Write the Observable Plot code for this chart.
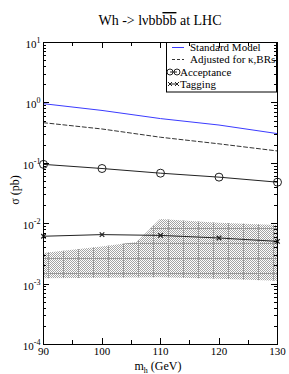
<!DOCTYPE html>
<html><head><meta charset="utf-8">
<script src="https://cdn.jsdelivr.net/npm/d3@7"></script>
<script src="https://cdn.jsdelivr.net/npm/@observablehq/plot@0.6"></script>
<style>body{margin:0;background:#fff} svg{display:block}</style>
</head><body><div id="chart"></div>
<script>
// ---- data ----
const mh = [90, 100, 110, 120, 130];
const standardModel = [0.97, 0.75, 0.55, 0.43, 0.31];
const adjusted = [0.47, 0.37, 0.27, 0.21, 0.16];
const acceptance = [0.096, 0.082, 0.0686, 0.059, 0.0487];
const tagging = [0.0062, 0.0066, 0.0064, 0.0058, 0.0051];
const bandMh = [90, 100, 106, 110, 120, 130];
const bandLow = [0.00123, 0.00125, 0.00126, 0.00127, 0.0012, 0.00111];
const bandHigh = [0.0032, 0.0041, 0.0049, 0.0117, 0.0102, 0.0093];
const xTicks = [90, 100, 110, 120, 130];
const xMinor = [95, 105, 115, 125];
const yExponents = [1, 0, -1, -2, -3, -4];
const legendLabels = ["Standard Model", "Adjusted for \u03ba,BRs", "Acceptance", "Tagging"];
const titleParts = ["Wh -> l\u03bdbb", "bb", " at LHC"];

const rows = (ys) => mh.map((m, i) => ({mh: m, v: ys[i]}));
const band = bandMh.map((m, i) => ({mh: m, lo: bandLow[i], hi: bandHigh[i]}));
const yMinor = [];
for (let e = -4; e < 1; e++) for (let k = 2; k <= 9; k++) yMinor.push(k * 10 ** e);
const yMajor = yExponents.map(e => 10 ** e);

const SERIF = "'Liberation Serif', 'Times New Roman', serif";

const svg = Plot.plot({
  width: 289, height: 374,
  marginLeft: 43, marginRight: 12, marginTop: 42, marginBottom: 30,
  style: {fontFamily: SERIF, fontSize: "11px", background: "white", color: "black"},
  x: {domain: [90, 130], axis: null},
  y: {type: "log", domain: [1e-4, 10], axis: null},
  marks: [
    Plot.areaY(band, {x: "mh", y1: "lo", y2: "hi", fill: "url(#chk)"}),
    Plot.areaY(band, {x: "mh", y1: "lo", y2: "hi", fill: "url(#gridpat)"}),
    Plot.line(rows(standardModel), {x: "mh", y: "v", stroke: "#3b3bff", strokeWidth: 1}),
    Plot.line(rows(adjusted), {x: "mh", y: "v", stroke: "#333", strokeWidth: 1, strokeDasharray: "4,2.5"}),
    Plot.line(rows(acceptance), {x: "mh", y: "v", stroke: "#222", strokeWidth: 1}),
    Plot.dot(rows(acceptance), {x: "mh", y: "v", r: 4, stroke: "#222", fill: "none", strokeWidth: 1}),
    Plot.line(rows(tagging), {x: "mh", y: "v", stroke: "#222", strokeWidth: 1}),
    Plot.dot(rows(tagging), {x: "mh", y: "v", r: 2.2, symbol: "times", stroke: "#222", strokeWidth: 1.2}),
    Plot.frame({stroke: "black"}),
    // tick labels
    Plot.text(xTicks, {x: d => d, frameAnchor: "bottom", text: d => String(d),
      dy: 7, fontSize: 11, lineAnchor: "middle"}),
    Plot.text(yExponents, {y: d => 10 ** d, frameAnchor: "left", text: d => "10^" + d,
      dx: -3, dy: 2, textAnchor: "end", fontSize: 11, className: "ylab"})
  ]
});

document.getElementById("chart").append(svg);
const s = d3.select(svg);

// patterns for the hatched band
const defs = s.insert("defs", ":first-child");
const chk = defs.append("pattern").attr("id", "chk").attr("patternUnits", "userSpaceOnUse")
  .attr("width", 2).attr("height", 2);
chk.append("rect").attr("width", 2).attr("height", 2).attr("fill", "white");
chk.append("rect").attr("x", 0).attr("y", 0).attr("width", 1).attr("height", 1).attr("fill", "#a4a4a4");
chk.append("rect").attr("x", 1).attr("y", 1).attr("width", 1).attr("height", 1).attr("fill", "#a4a4a4");
const gp = defs.append("pattern").attr("id", "gridpat").attr("patternUnits", "userSpaceOnUse")
  .attr("x", 3).attr("y", 3).attr("width", 15).attr("height", 15);
gp.append("path").attr("d", "M0.5,0V15M0,0.5H15").attr("stroke", "#999").attr("stroke-width", 1).attr("fill", "none");

// superscripts in y tick labels
s.selectAll(".ylab text").each(function() {
  const t = d3.select(this);
  const [base, exp] = t.text().split("^");
  if (exp === undefined) return;
  t.text(base);
  t.append("tspan").attr("dy", -5).attr("font-size", 8).text(exp);
});

// title
const title = s.append("text").attr("x", 160).attr("y", 25).attr("text-anchor", "middle")
  .attr("font-family", SERIF).attr("font-size", 14).attr("fill", "black");
title.append("tspan").text(titleParts[0]);
title.append("tspan").attr("text-decoration", "overline").style("text-decoration", "overline").text(titleParts[1]);
title.append("tspan").text(titleParts[2]);

// axis labels
const xl = s.append("text").attr("x", 158).attr("y", 370).attr("text-anchor", "middle")
  .attr("font-family", SERIF).attr("font-size", 12).attr("fill", "black");
xl.append("tspan").text("m");
xl.append("tspan").attr("dy", 3).attr("font-size", 8).text("h");
xl.append("tspan").attr("dy", -3).text(" (GeV)");
s.append("text").attr("transform", "translate(19,190) rotate(-90)").attr("text-anchor", "middle")
  .attr("font-family", SERIF).attr("font-size", 12).attr("fill", "black").text("\u03c3 (pb)");

// legend
const lg = s.append("g").attr("font-family", SERIF).attr("font-size", 11).attr("text-anchor", "start");
lg.append("rect").attr("x", 166.5).attr("y", 42.5).attr("width", 110).attr("height", 49.5)
  .attr("fill", "white").attr("stroke", "black");
const ly = [47.5, 59.5, 72, 84];
lg.append("line").attr("x1", 172).attr("x2", 184).attr("y1", ly[0]).attr("y2", ly[0]).attr("stroke", "#3b3bff");
lg.append("line").attr("x1", 172).attr("x2", 184).attr("y1", ly[1]).attr("y2", ly[1]).attr("stroke", "#333").attr("stroke-dasharray", "3,2");
lg.append("line").attr("x1", 170).attr("x2", 177).attr("y1", ly[2]).attr("y2", ly[2]).attr("stroke", "#222");
[170, 177].forEach(cx => lg.append("circle").attr("cx", cx).attr("cy", ly[2]).attr("r", 3).attr("fill", "none").attr("stroke", "#222"));
lg.append("line").attr("x1", 170).attr("x2", 177).attr("y1", ly[3]).attr("y2", ly[3]).attr("stroke", "#222");
[170, 177].forEach(cx => lg.append("path").attr("d", `M${cx-2},${ly[3]-2}L${cx+2},${ly[3]+2}M${cx-2},${ly[3]+2}L${cx+2},${ly[3]-2}`).attr("stroke", "#222"));
const lx = [190, 190, 180, 180];
legendLabels.forEach((lab, i) => lg.append("text").attr("x", lx[i]).attr("y", ly[i] + 3.5).attr("text-anchor", "start").attr("fill", "black").text(lab));

// inward ticks on all four sides, positioned through Plot's scales (drawn last)
try {
  const X = svg.scale("x"), Y = svg.scale("y");
  const [x0, x1] = X.range, [y0, y1] = Y.range; // y0 bottom, y1 top
  const tk = s.append("g").attr("stroke", "black").attr("stroke-width", 1).attr("fill", "none");
  const xTick = (vals, len) => vals.forEach(v => {
    const px = Math.round(X.apply(v)) + 0.5;
    tk.append("line").attr("x1", px).attr("x2", px).attr("y1", y0).attr("y2", y0 - len);
    tk.append("line").attr("x1", px).attr("x2", px).attr("y1", y1).attr("y2", y1 + len);
  });
  const yTick = (vals, len) => vals.forEach(v => {
    const py = Math.round(Y.apply(v)) + 0.5;
    tk.append("line").attr("y1", py).attr("y2", py).attr("x1", x0).attr("x2", x0 + len);
    tk.append("line").attr("y1", py).attr("y2", py).attr("x1", x1).attr("x2", x1 - len);
  });
  xTick(xTicks, 6); xTick(xMinor, 4); yTick(yMajor, 6); yTick(yMinor, 3);
} catch (e) {}
</script></body></html>
